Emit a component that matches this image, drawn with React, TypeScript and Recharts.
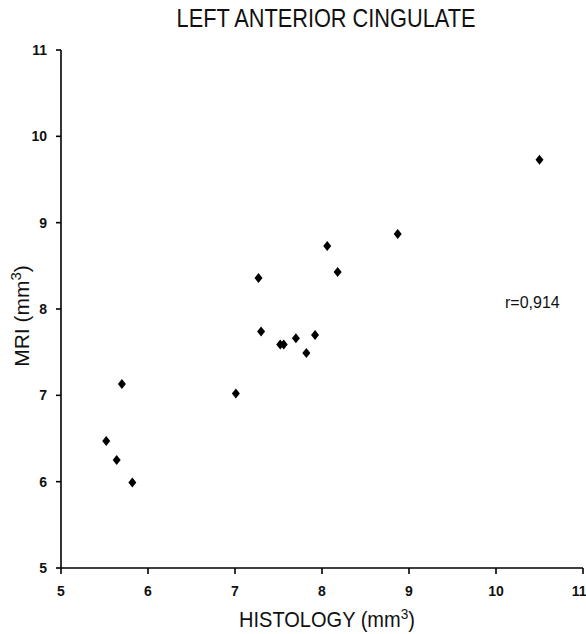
import { ScatterChart, Scatter, XAxis, YAxis } from 'recharts';

const histology = [5.52, 5.64, 5.82, 5.70, 7.01, 7.30, 7.52, 7.56, 7.70, 7.82, 7.92, 7.27, 8.06, 8.18, 8.87, 10.50];
const mri = [6.47, 6.25, 5.99, 7.13, 7.02, 7.74, 7.59, 7.59, 7.66, 7.49, 7.70, 8.36, 8.73, 8.43, 8.87, 9.73];
const axisTicks = [5, 6, 7, 8, 9, 10, 11];

const points = histology.map((h, i) => ({ x: h, y: mri[i] }));

const FONT = 'Liberation Sans, Arial, sans-serif';
const TICK = { fill: '#111', fontSize: 14, fontFamily: FONT, fontWeight: 700 };

function Diamond(props: any) {
  const { cx, cy } = props;
  if (cx == null || cy == null) return null;
  return <polygon points={`${cx},${cy - 5} ${cx + 4},${cy} ${cx},${cy + 5} ${cx - 4},${cy}`} fill="#000" />;
}

export default function App() {
  return (
    <div style={{ position: 'absolute', left: 0, top: 0, width: 586, height: 634, background: '#fff', fontFamily: FONT, color: '#111' }}>
      <ScatterChart width={586} height={634} margin={{ top: 50, right: 3, bottom: 0, left: 0 }}>
        <XAxis
          type="number"
          dataKey="x"
          domain={[5, 11]}
          ticks={axisTicks}
          height={66}
          tick={TICK}
          tickSize={6}
          tickMargin={12}
          stroke="#000"
          strokeWidth={1.6}
        />
        <YAxis
          type="number"
          dataKey="y"
          domain={[5, 11]}
          ticks={axisTicks}
          width={61}
          tick={TICK}
          tickSize={5}
          tickMargin={9}
          stroke="#000"
          strokeWidth={1.6}
        />
        <Scatter data={points} shape={<Diamond />} isAnimationActive={false} />
      </ScatterChart>

      <div
        style={{
          position: 'absolute', left: 325.5, top: 5.7, fontSize: 25, lineHeight: '25px', whiteSpace: 'nowrap',
          transform: 'translateX(-50%) scaleX(0.87)',
        }}
      >
        LEFT ANTERIOR CINGULATE
      </div>
      <div style={{ position: 'absolute', left: 505, top: 294.5, fontSize: 16, lineHeight: '16px' }}>r=0,914</div>
      <div
        style={{
          position: 'absolute', left: 326.5, top: 609.4, fontSize: 22, lineHeight: '22px', whiteSpace: 'nowrap',
          transform: 'translateX(-50%) scaleX(0.91)',
        }}
      >
        HISTOLOGY (mm<sup style={{ fontSize: 15, lineHeight: 0 }}>3</sup>)
      </div>
      <div
        style={{
          position: 'absolute', left: 20.5, top: 316, fontSize: 21, lineHeight: '21px', whiteSpace: 'nowrap',
          transform: 'translate(-50%, -50%) rotate(-90deg)',
        }}
      >
        MRI (mm<sup style={{ fontSize: 15, lineHeight: 0 }}>3</sup>)
      </div>
    </div>
  );
}
